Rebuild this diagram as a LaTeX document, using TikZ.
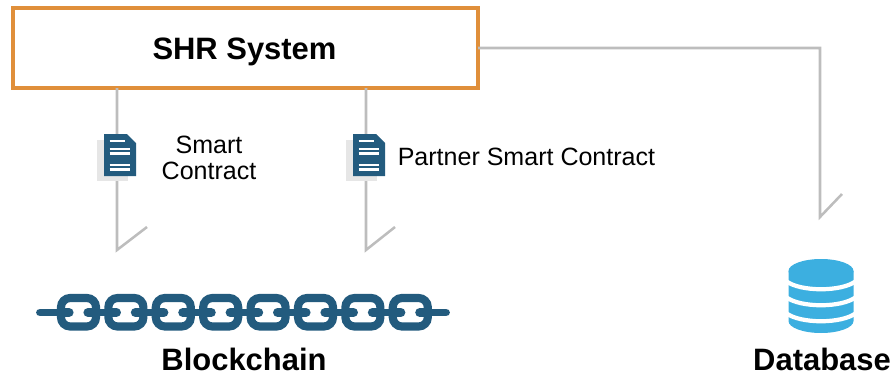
\documentclass[tikz,border=0pt]{standalone}
\usepackage{fontspec}
\setmainfont{Liberation Sans}
\definecolor{chainblue}{HTML}{235B7E}
\definecolor{dbblue}{HTML}{3CAFE0}
\definecolor{linkgray}{HTML}{BDBDBD}
\definecolor{boxorange}{HTML}{E08F3A}
\definecolor{docshadow}{HTML}{E6E6E6}
\tikzset{
  sysbox/.style={draw=boxorange, line width=2.3pt, inner sep=0pt, outer sep=0pt, minimum width=11.625cm, minimum height=2cm},
  conn/.style={linkgray, line width=1.8pt, line join=miter},
  bigtext/.style={font=\fontsize{22}{26}\selectfont\bfseries, inner sep=0pt},
  smalltext/.style={font=\fontsize{17.8}{18.5}\selectfont, inner sep=0pt, align=center},
}
\begin{document}
\begin{tikzpicture}[x=0.025cm, y=-0.025cm]
\useasboundingbox (0,0) rectangle (896,375);

\node[sysbox] (shr) at (245.5,48) {};
\node[bigtext] (shrlabel) at (244.5,52) {SHR System};

\coordinate (scend) at (117,250);
\coordinate (scbarb) at (147,227);
\coordinate (pscend) at (366,250);
\coordinate (pscbarb) at (395,227);
\coordinate (dbend) at (820,217);
\coordinate (dbbarb) at (842,194);

\draw[conn] (shr.south -| scend) -- (scend) -- (scbarb);
\draw[conn] (shr.south -| pscend) -- (pscend) -- (pscbarb);
\draw[conn] (shr.east) -- (shr.east -| dbend) -- (dbend) -- (dbbarb);

% contract icons
\foreach \x\docname in {0/doca,249/docb} {
\begin{scope}[shift={(\x,0)}]
\fill[docshadow] (97,140) rectangle (128,181);
\fill[chainblue] (104,134) -- (127,134) -- (136,143) -- (136,176) -- (104,176) -- cycle;
\foreach \y\xend in {141/125,149/130,153.5/130,165/130,169.5/130}
\draw[white, line width=1.5pt] (109.5,\y) -- (\xend,\y);
\coordinate (\docname) at (120,155);
\end{scope}
}

\node[smalltext] (sclabel) at (209,158) {Smart\\Contract};
\node[smalltext, right] (psclabel) at (397.5,157) {Partner Smart Contract};

% chain
\draw[chainblue, line width=5.6pt, line cap=round] (40,312.5) -- (446,312.5);
\foreach \n in {0,...,7} {
\begin{scope}[shift={(47.4*\n,0)}]
\draw[chainblue, fill=white, line width=5.8pt, rounded corners=6.5pt] (61,298) rectangle (96,326.5);
\draw[chainblue, line width=6.5pt, line cap=round] (63,312.5) -- (69,312.5);
\draw[chainblue, line width=6.5pt, line cap=round] (88,312.5) -- (94,312.5);
\end{scope}
}
\node[bigtext] (chainlabel) at (244,359.5) {Blockchain};

% database
\fill[dbblue] (788.5,271) arc[start angle=180, end angle=360, x radius=32.5, y radius=12]
  arc[start angle=0, end angle=180, x radius=32.5, y radius=12] -- cycle;
\fill[dbblue] (788.5,271) -- (788.5,321) arc[start angle=180, end angle=0, x radius=32.5, y radius=12, y=-0.025cm] -- (853.5,271) -- cycle;
\foreach \y in {281,297,313}
\draw[white, line width=3pt] (786,\y) .. controls (800,{\y+11}) and (842,{\y+11}) .. (856,\y);
\node[bigtext] (dblabel) at (822,359.5) {Database};

\end{tikzpicture}
\end{document}
